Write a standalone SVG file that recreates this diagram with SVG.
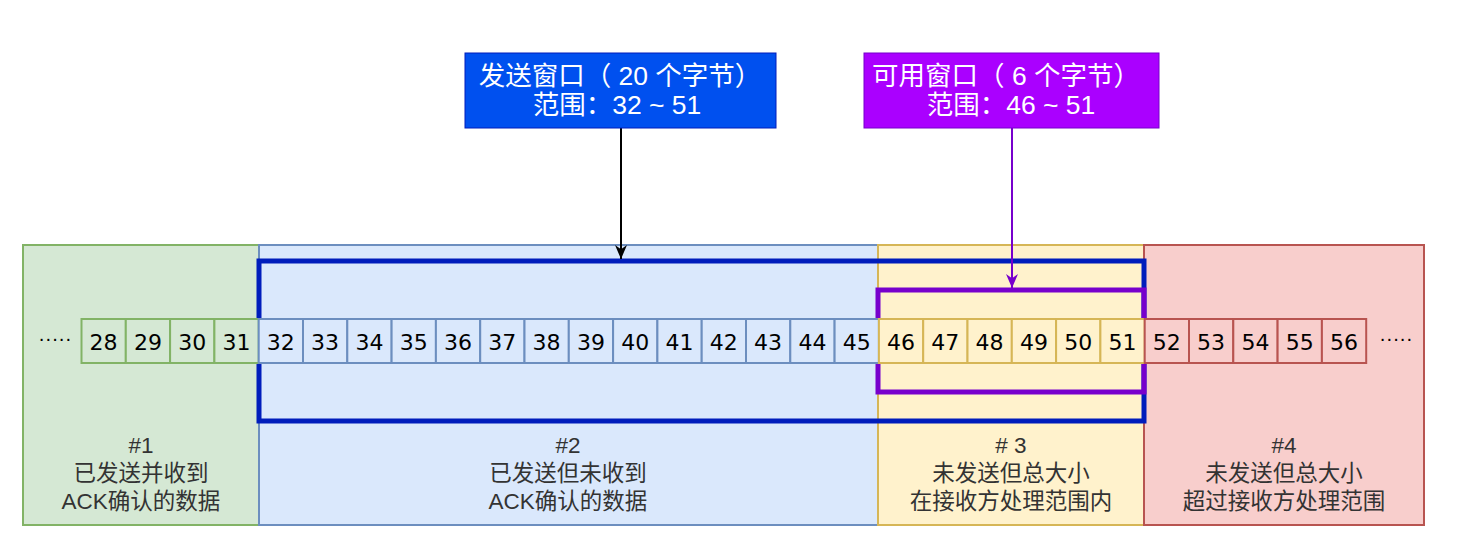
<svg xmlns="http://www.w3.org/2000/svg" width="1468" height="542" viewBox="0 0 1468 542">
<style>
.lbl{font-family:"Liberation Sans","Noto Sans CJK SC",sans-serif;font-size:22.5px;fill:#333333;text-anchor:middle}
.num{font-family:"DejaVu Sans","Liberation Sans",sans-serif;font-size:22px;fill:#000;text-anchor:middle;dominant-baseline:central}
.top{font-family:"Liberation Sans","Noto Sans CJK SC",sans-serif;font-size:26.5px;fill:#ffffff;text-anchor:middle}
.g{fill:#d5e8d4;stroke:#82b366;stroke-width:2}
.b{fill:#dae8fc;stroke:#6c8ebf;stroke-width:2}
.y{fill:#fff2cc;stroke:#d6b656;stroke-width:2}
.r{fill:#f8cecc;stroke:#b85450;stroke-width:2}
.dots{font-family:"Liberation Sans",sans-serif;font-size:20px;fill:#000;text-anchor:middle}
</style>
<defs>
<marker id="ab" viewBox="0 0 10 10" refX="10" refY="5" markerWidth="14" markerHeight="12" markerUnits="userSpaceOnUse" orient="auto" overflow="visible" preserveAspectRatio="none">
<path d="M0,0 L10,5 L0,10 L3,5 Z" fill="#000"/>
</marker>
<marker id="ap" viewBox="0 0 10 10" refX="10" refY="5" markerWidth="14" markerHeight="12" markerUnits="userSpaceOnUse" orient="auto" overflow="visible" preserveAspectRatio="none">
<path d="M0,0 L10,5 L0,10 L3,5 Z" fill="#7700CC"/>
</marker>
</defs>
<rect width="1468" height="542" fill="#ffffff"/>
<g id="region1"><rect class="g" x="23" y="245" width="236" height="280"/>
<text class="lbl" x="141" y="453">#1</text><text class="lbl" x="141" y="481">已发送并收到</text><text class="lbl" x="141" y="509">ACK确认的数据</text></g>
<g id="region2"><rect class="b" x="259" y="245" width="619" height="280"/>
<text class="lbl" x="568" y="453">#2</text><text class="lbl" x="568" y="481">已发送但未收到</text><text class="lbl" x="568" y="509">ACK确认的数据</text></g>
<g id="region3"><rect class="y" x="878" y="245" width="266" height="280"/>
<text class="lbl" x="1011" y="453"># 3</text><text class="lbl" x="1011" y="481">未发送但总大小</text><text class="lbl" x="1011" y="509">在接收方处理范围内</text></g>
<g id="region4"><rect class="r" x="1144" y="245" width="280" height="280"/>
<text class="lbl" x="1284" y="453">#4</text><text class="lbl" x="1284" y="481">未发送但总大小</text><text class="lbl" x="1284" y="509">超过接收方处理范围</text></g>
<g id="sendWindowFrame"><rect x="259" y="261" width="885" height="160" fill="none" stroke="#001DBC" stroke-width="5"/></g>
<g id="usableWindowFrame"><rect x="878" y="290" width="266" height="102" fill="none" stroke="#7700CC" stroke-width="5"/></g>
<g id="cells">
<text class="dots" x="55" y="345">·····</text>
<rect class="g" x="81.5" y="319" width="44.3" height="44"/><text class="num" x="103.6" y="342">28</text>
<rect class="g" x="125.8" y="319" width="44.3" height="44"/><text class="num" x="147.9" y="342">29</text>
<rect class="g" x="170.1" y="319" width="44.3" height="44"/><text class="num" x="192.2" y="342">30</text>
<rect class="g" x="214.4" y="319" width="44.3" height="44"/><text class="num" x="236.5" y="342">31</text>
<rect class="b" x="258.7" y="319" width="44.3" height="44"/><text class="num" x="280.8" y="342">32</text>
<rect class="b" x="303.0" y="319" width="44.3" height="44"/><text class="num" x="325.1" y="342">33</text>
<rect class="b" x="347.3" y="319" width="44.3" height="44"/><text class="num" x="369.4" y="342">34</text>
<rect class="b" x="391.6" y="319" width="44.3" height="44"/><text class="num" x="413.7" y="342">35</text>
<rect class="b" x="435.9" y="319" width="44.3" height="44"/><text class="num" x="458.0" y="342">36</text>
<rect class="b" x="480.2" y="319" width="44.3" height="44"/><text class="num" x="502.3" y="342">37</text>
<rect class="b" x="524.5" y="319" width="44.3" height="44"/><text class="num" x="546.6" y="342">38</text>
<rect class="b" x="568.8" y="319" width="44.3" height="44"/><text class="num" x="590.9" y="342">39</text>
<rect class="b" x="613.1" y="319" width="44.3" height="44"/><text class="num" x="635.2" y="342">40</text>
<rect class="b" x="657.4" y="319" width="44.3" height="44"/><text class="num" x="679.5" y="342">41</text>
<rect class="b" x="701.7" y="319" width="44.3" height="44"/><text class="num" x="723.8" y="342">42</text>
<rect class="b" x="746.0" y="319" width="44.3" height="44"/><text class="num" x="768.1" y="342">43</text>
<rect class="b" x="790.3" y="319" width="44.3" height="44"/><text class="num" x="812.4" y="342">44</text>
<rect class="b" x="834.6" y="319" width="44.3" height="44"/><text class="num" x="856.7" y="342">45</text>
<rect class="y" x="878.9" y="319" width="44.3" height="44"/><text class="num" x="901.0" y="342">46</text>
<rect class="y" x="923.2" y="319" width="44.3" height="44"/><text class="num" x="945.3" y="342">47</text>
<rect class="y" x="967.5" y="319" width="44.3" height="44"/><text class="num" x="989.6" y="342">48</text>
<rect class="y" x="1011.8" y="319" width="44.3" height="44"/><text class="num" x="1033.9" y="342">49</text>
<rect class="y" x="1056.1" y="319" width="44.3" height="44"/><text class="num" x="1078.2" y="342">50</text>
<rect class="y" x="1100.4" y="319" width="44.3" height="44"/><text class="num" x="1122.5" y="342">51</text>
<rect class="r" x="1144.7" y="319" width="44.3" height="44"/><text class="num" x="1166.8" y="342">52</text>
<rect class="r" x="1189.0" y="319" width="44.3" height="44"/><text class="num" x="1211.1" y="342">53</text>
<rect class="r" x="1233.3" y="319" width="44.3" height="44"/><text class="num" x="1255.4" y="342">54</text>
<rect class="r" x="1277.6" y="319" width="44.3" height="44"/><text class="num" x="1299.7" y="342">55</text>
<rect class="r" x="1321.9" y="319" width="44.3" height="44"/><text class="num" x="1344.0" y="342">56</text>
<text class="dots" x="1396" y="345">·····</text>
</g>
<g id="connectors">
<line x1="621" y1="128" x2="621" y2="259" stroke="#000" stroke-width="2" marker-end="url(#ab)"/>
<line x1="1012" y1="128" x2="1012" y2="288" stroke="#7700CC" stroke-width="2" marker-end="url(#ap)"/>
</g>
<g id="sendWindowLabel"><rect x="465" y="53" width="311" height="75" fill="#0050EF" stroke="#001DBC" stroke-width="1"/>
<text class="top" x="620" y="85">发送窗口（ 20 个字节）</text><text class="top" x="617" y="114">范围：32 ~ 51</text></g>
<g id="usableWindowLabel"><rect x="864" y="53" width="295" height="75" fill="#AA00FF" stroke="#7700CC" stroke-width="1"/>
<text class="top" x="1006" y="85">可用窗口（ 6 个字节）</text><text class="top" x="1011" y="114">范围：46 ~ 51</text></g>
</svg>
